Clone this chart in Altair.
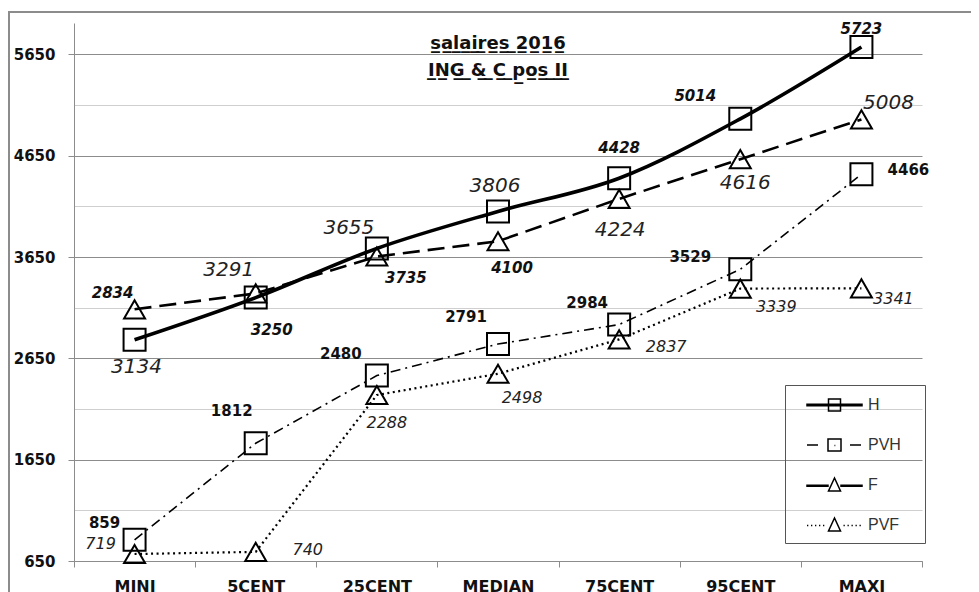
import altair as alt
import pandas as pd

# ---------------- data ----------------
categories = ["MINI", "5CENT", "25CENT", "MEDIAN", "75CENT", "95CENT", "MAXI"]
series_names = ["H", "PVH", "F", "PVF"]
H = [2834, 3250, 3735, 4100, 4428, 5014, 5723]
PVH = [859, 1812, 2480, 2791, 2984, 3529, 4466]
F = [3134, 3291, 3655, 3806, 4224, 4616, 5008]
PVF = [719, 740, 2288, 2498, 2837, 3339, 3341]
y_grid_values = [650, 1150, 1650, 2150, 2650, 3150, 3650, 4150, 4650, 5150, 5650]
y_domain = [650, 5960]
title_lines = ["salaires 2016", "ING & C pos II"]

values = {"H": H, "PVH": PVH, "F": F, "PVF": PVF}

# ---------------- layout (label placement in px, not data) ----------------
LABEL_DX = {
    "H": [-22, 16, 29, 14, 0, -45, 0],
    "F": [2, -27, -28, -3, 1, 5, 27],
    "PVH": [-30, -24, -36, -32, -32, -50, 47],
    "PVF": [-34, 52, 10, 24, 47, 36, 32],
}
LABEL_DY = {
    "H": [-47, 32, 30, 57, -30, -23, -18],
    "F": [58, -23, -29, -55, 31, 24, -16],
    "PVH": [-17, -32, -22, -27, -22, -12, -4],
    "PVF": [-10, -2, 28, 24, 8, 18, 11],
}

W, HT = 848, 538
BAND = W / len(categories)
PX_TO_VALUE = (y_domain[1] - y_domain[0]) / HT

rows = []
for s in series_names:
    for i, c in enumerate(categories):
        rows.append({"cat": c, "series": s, "value": values[s][i],
                     "dx": LABEL_DX[s][i] + BAND / 2, "dy": LABEL_DY[s][i]})
df = pd.DataFrame(rows)

major = "datum.value % 1000 == 650"

x_enc = alt.X(
    "cat:N", sort=categories, title=None,
    scale=alt.Scale(type="band", domain=categories, paddingInner=0, paddingOuter=0),
    axis=alt.Axis(tickBand="extent", grid=False, labelAngle=0, domainColor="#8c8c8c",
                  tickColor="#8c8c8c", tickSize=6, labelPadding=11,
                  labelFont="DejaVu Sans", labelFontWeight="bold", labelFontSize=16,
                  labelColor="#111111", labelBaseline="top"),
)
y_scale = alt.Scale(domain=y_domain, nice=False, zero=False)
y_enc = alt.Y(
    "value:Q", title=None, scale=y_scale,
    axis=alt.Axis(values=y_grid_values, grid=True,
                  gridColor=alt.condition(major, alt.value("#8c8c8c"), alt.value("#cfcfcf")),
                  tickOpacity=alt.condition(major, alt.value(1), alt.value(0)),
                  labelExpr="datum.value % 1000 == 650 ? datum.label : ''",
                  format="d", domainColor="#8c8c8c", tickColor="#8c8c8c", tickSize=6,
                  labelPadding=13, labelFont="DejaVu Sans", labelFontWeight="bold",
                  labelFontSize=15, labelColor="#111111"),
)

base = alt.Chart(df)

def line_layer(s, **kw):
    return base.transform_filter(alt.datum.series == s).mark_line(color="black", **kw).encode(
        x=x_enc, y=y_enc)

lines = [
    line_layer("PVF", strokeWidth=2.2, strokeDash=[2, 3.5]),
    line_layer("PVH", strokeWidth=1.6, strokeDash=[10, 5, 2, 5]),
    line_layer("F", strokeWidth=2.6, strokeDash=[17, 8]),
    line_layer("H", strokeWidth=3.6, interpolate="monotone"),
]

squares = base.transform_filter("datum.series == 'H' || datum.series == 'PVH'").mark_point(
    shape="square", size=484, filled=False, color="black", strokeWidth=2, opacity=1
).encode(x=x_enc, y=y_enc)
triangles = base.transform_filter("datum.series == 'F' || datum.series == 'PVF'").mark_point(
    shape="triangle-up", size=440, filled=False, color="black", strokeWidth=2, opacity=1
).encode(x=x_enc, y=y_enc)

def label_layer(s, **font):
    return base.transform_filter(alt.datum.series == s).transform_calculate(
        ly=f"datum.value - datum.dy * {PX_TO_VALUE}"
    ).mark_text(
        align="center", baseline="middle", font="DejaVu Sans", **font
    ).encode(
        x=x_enc,
        y=alt.Y("ly:Q", title=None, scale=y_scale),
        xOffset=alt.XOffset("dx:Q", scale=None),
        text=alt.Text("value:Q", format="d"),
    )

labels = [
    label_layer("H", fontSize=15, fontWeight="bold", fontStyle="italic", color="#111111"),
    label_layer("F", fontSize=20, fontWeight=200, fontStyle="italic", color="#222222"),
    label_layer("PVH", fontSize=15, fontWeight="bold", color="#111111"),
    label_layer("PVF", fontSize=16, fontWeight=200, fontStyle="italic", color="#222222"),
]

# ---------------- legend (custom symbols, drawn in px then scaled) ----------------
U = 10.0  # px per unit for symbolSize 400
C = 29.5  # centre of visible symbol relative to symbol origin (px)
BOX_EXT = 108  # move-only point that widens the legend box to the right (px)

def P(x, y):
    return f"{x / U:.3f},{y / U:.3f}"

def rect(x0, x1, y0, y1):
    return f"M{P(x0, y0)}L{P(x1, y0)}L{P(x1, y1)}L{P(x0, y1)}Z"

def seg(x0, x1, y=0):
    return f"M{P(x0, y)}L{P(x1, y)}"

def tri(cx, hw, top, base_y):
    return f"M{P(cx - hw, base_y)}L{P(cx + hw, base_y)}L{P(cx, top)}Z"

def dotted(x0, x1, step=4.0, ln=1.3, y=0.5):
    out, x = [], x0
    while x < x1:
        out.append(seg(x, x + ln, y))
        x += step
    return "".join(out)

EXT = f"M{P(BOX_EXT, 0)}"

LEGEND_PATHS = [
    rect(2, 57, -0.8, 0.8) + rect(C - 6, C + 6, -6, 6) + EXT,
    seg(2, 13) + seg(45, 56) + rect(C - 6.5, C + 6.5, -6, 6) + seg(C, C + 0.8, 0.5) + EXT,
    rect(2, C - 6.5, 0.2, 1.2) + rect(C + 6.5, 57, 0.2, 1.2) + tri(C, 6, -7, 6) + EXT,
    dotted(2, C - 8) + dotted(C + 9, 57) + tri(C, 6, -7, 6) + EXT,
]

leg_df = pd.DataFrame({"series": series_names})
legend_layer = alt.Chart(leg_df).mark_point(opacity=0).encode(
    shape=alt.Shape(
        "series:N", sort=series_names,
        scale=alt.Scale(domain=series_names, range=LEGEND_PATHS),
        legend=alt.Legend(
            title=None, orient="none", legendX=711, legendY=362,
            symbolSize=400, symbolStrokeColor="black", symbolFillColor="transparent",
            symbolStrokeWidth=1.5, symbolOpacity=1, labelFont="Liberation Sans",
            labelFontSize=16, labelColor="#333333", labelOffset=52,
            strokeColor="#555555", padding=9, rowPadding=20,
        ),
    )
)

# ---------------- frame ----------------
frame = alt.Chart(pd.DataFrame({"k": [0]})).mark_rect(
    fill="transparent", stroke="#8c8c8c", strokeWidth=2
).encode(x=alt.value(-65), x2=alt.value(W + 200), y=alt.value(-11), y2=alt.value(HT + 200))

def underline(s):
    return "".join(ch + "\u0332" for ch in s)

title = alt.TitleParams(
    text=[underline(t) for t in title_lines], font="DejaVu Sans", fontSize=18,
    fontWeight="bold", color="#111111", anchor="middle", baseline="top",
    lineHeight=27, offset=0, dy=69,
)

chart = alt.layer(frame, *lines, squares, triangles, *labels, legend_layer).properties(
    width=W, height=HT, title=title,
    autosize=alt.AutoSizeParams(type="none"),
    padding={"left": 66, "top": 15, "right": 49, "bottom": 31},
).configure_view(stroke=None)

chart.save("out.html", embed_options={"renderer": "svg", "actions": False})
